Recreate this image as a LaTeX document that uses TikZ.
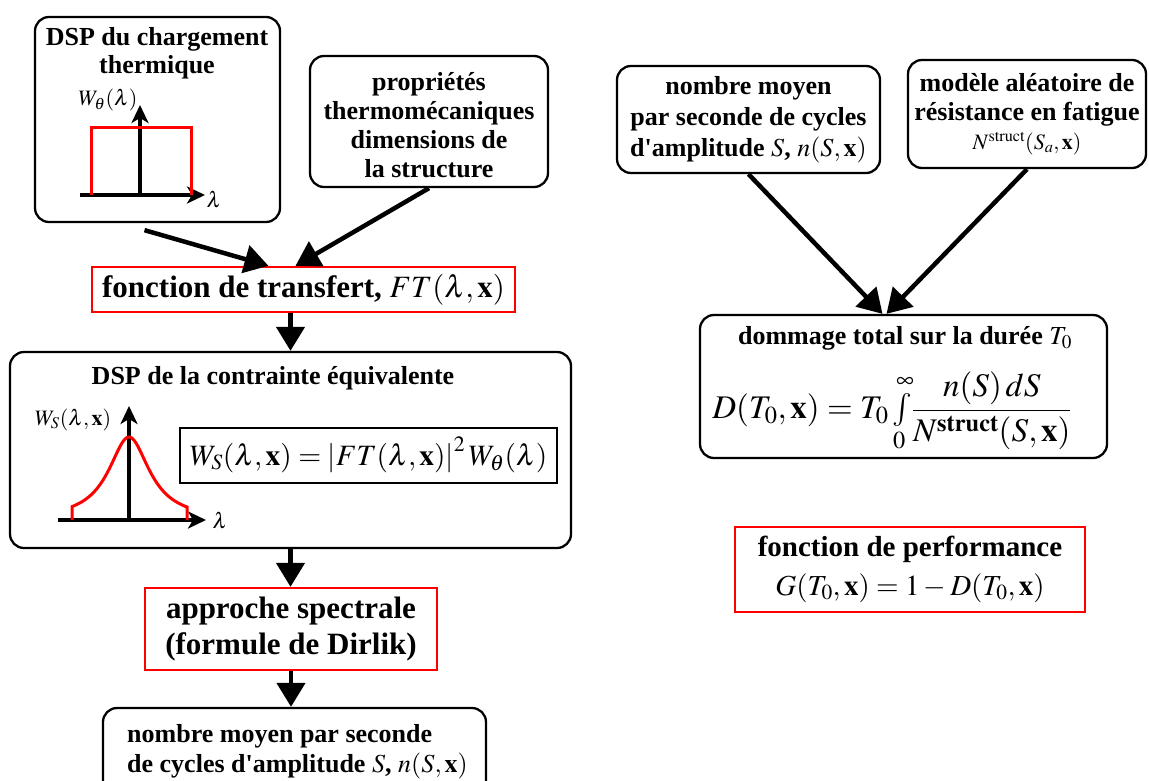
\documentclass[tikz,border=0pt]{standalone}
\usepackage{mathptmx}
\usepackage{fontspec}
\setmainfont{Liberation Serif}
\usetikzlibrary{arrows.meta}
\begin{document}
\begin{tikzpicture}[x=1pt,y=-1pt,
  rbox/.style={draw,line width=2.3pt,rounded corners=14pt,inner sep=0pt},
  redbox/.style={draw=red,line width=2.3pt,inner sep=0pt},
  eqbox/.style={draw,line width=2pt,inner sep=0pt},
  txt/.style={inner sep=0pt,align=center,font=\fontsize{26}{28}\selectfont\bfseries},
  bigtxt/.style={inner sep=0pt,align=center,font=\fontsize{31}{36}\selectfont\bfseries},
  arr/.style={line width=4.5pt,-{Triangle[length=24pt,width=28pt]}},
  axis/.style={line width=3.2pt,-{Stealth[length=18pt,width=17pt,inset=5pt]}},
  curve/.style={red,line width=3pt},
  mlab/.style={inner sep=0pt,font=\fontsize{22}{24}\selectfont}]

\useasboundingbox (0,0) rectangle (1149,780);

% ---- box 1 : DSP du chargement thermique
\node[rbox,minimum width=245pt,minimum height=205pt] (b1) at (157.5,119.5) {};
\node[txt] (b1t) at (157,53) {DSP du chargement\\thermique};
\draw[axis] (80,195) -- (205,195);
\draw[axis] (140,195) -- (140,105);
\draw[curve] (91,195) -- (91,127) -- (191,127) -- (191,195);
\node[mlab] (wth) at (108,100) {$W_\theta(\lambda)$};
\node[mlab] (lam1) at (214,199) {$\lambda$};

% ---- box 2
\node[rbox,minimum width=238pt,minimum height=131pt] (b2) at (429,121.5) {};
\node[txt,font=\fontsize{26}{29}\selectfont\bfseries] (b2t) at (429,125)
  {propriétés\\thermomécaniques\\dimensions de\\la structure};

% ---- fonction de transfert
\node[redbox,bigtxt,minimum width=423pt,minimum height=45pt] (ft) at (303.5,289.5)
  {fonction de transfert, $FT(\lambda,\mathbf{x})$};
\coordinate (b1out) at ([xshift=-13pt,yshift=-7pt]b1.south);
\coordinate (ftinL) at ([xshift=-35pt]ft.north);
\coordinate (ftinR) at ([xshift=-8pt]ft.north);
\draw[arr] (b1out) -- (ftinL);
\draw[arr] (b2.south) -- (ftinR);

% ---- box 3 : DSP de la contrainte
\node[rbox,minimum width=561pt,minimum height=196pt] (b3) at (290.5,450) {};
\draw[arr] (ft.south -| b3.north) -- (b3.north);
\node[txt] (b3t) at (273,378) {DSP de la contrainte équivalente};
\draw[axis] (58,520) -- (206,520);
\draw[axis] (129,520) -- (129,406);
\draw[curve] (72,520) -- plot[domain=72:187,samples=90] (\x,{520-83/(1+((\x-129)/25)*((\x-129)/25))}) -- (187,520);
\node[mlab] (wsl) at (73,420) {$W_S(\lambda,\mathbf{x})$};
\node[mlab] (lam2) at (220,520) {$\lambda$};
\node[eqbox,minimum width=377pt,minimum height=55pt,font=\fontsize{29.5}{32}\selectfont] (eq1) at (368.5,455)
  {$W_S(\lambda,\mathbf{x}) = \left|FT(\lambda,\mathbf{x})\right|^2 W_\theta(\lambda)$};

% ---- approche spectrale
\node[redbox,bigtxt,minimum width=292pt,minimum height=82pt] (spec) at (291,629)
  {approche spectrale\\(formule de Dirlik)};
\draw[arr] (b3.south) -- (b3.south |- spec.north);

% ---- nombre moyen (bottom)
\node[rbox,minimum width=383pt,minimum height=90pt] (nb) at (294.5,753) {};
\node[txt,align=left,anchor=west,font=\fontsize{26}{30}\selectfont\bfseries] (nbt) at (127,752)
  {nombre moyen par seconde\\de cycles d\textquotesingle amplitude $S$, $n(S,\mathbf{x})$};
\draw[arr] (spec.south) -- (spec.south |- nb.north);

% ---- right column
\node[rbox,txt,font=\fontsize{26}{31}\selectfont\bfseries,minimum width=263pt,minimum height=107pt] (r1) at (748.5,119.5)
  {nombre moyen\\par seconde de cycles\\d\textquotesingle amplitude $S$, $n(S,\mathbf{x})$};
\node[rbox,txt,font=\fontsize{26}{29}\selectfont\bfseries,minimum width=238pt,minimum height=108pt] (r2) at (1027,114)
  {modèle aléatoire de\\résistance en fatigue\\{\fontsize{22}{24}\selectfont$N^{\mathrm{struct}}(S_a,\mathbf{x})$}};

\node[rbox,minimum width=407pt,minimum height=143pt] (dom) at (903.5,386.5) {};
\node[txt] (domt) at (905,338) {dommage total sur la durée $T_0$};
\node[inner sep=0pt,font=\fontsize{33}{35}\selectfont] (domf) at (892,412)
  {$\displaystyle D(T_0,\mathbf{x}) = T_0\,{\textstyle\int\limits_0^\infty}\frac{n(S)\,dS}{N^{\mathbf{struct}}(S,\mathbf{x})}$};
\coordinate (dinL) at ([xshift=-21pt]dom.north);
\coordinate (dinR) at ([xshift=-17pt]dom.north);
\draw[arr] (r1.south) -- (dinL);
\draw[arr] (r2.south) -- (dinR);

\node[redbox,align=center,font=\fontsize{29}{39}\selectfont,minimum width=350pt,minimum height=85pt] (perf) at (910,569.5)
  {\textbf{fonction de performance}\\$G(T_0,\mathbf{x}) = 1 - D(T_0,\mathbf{x})$};
\end{tikzpicture}
\end{document}
